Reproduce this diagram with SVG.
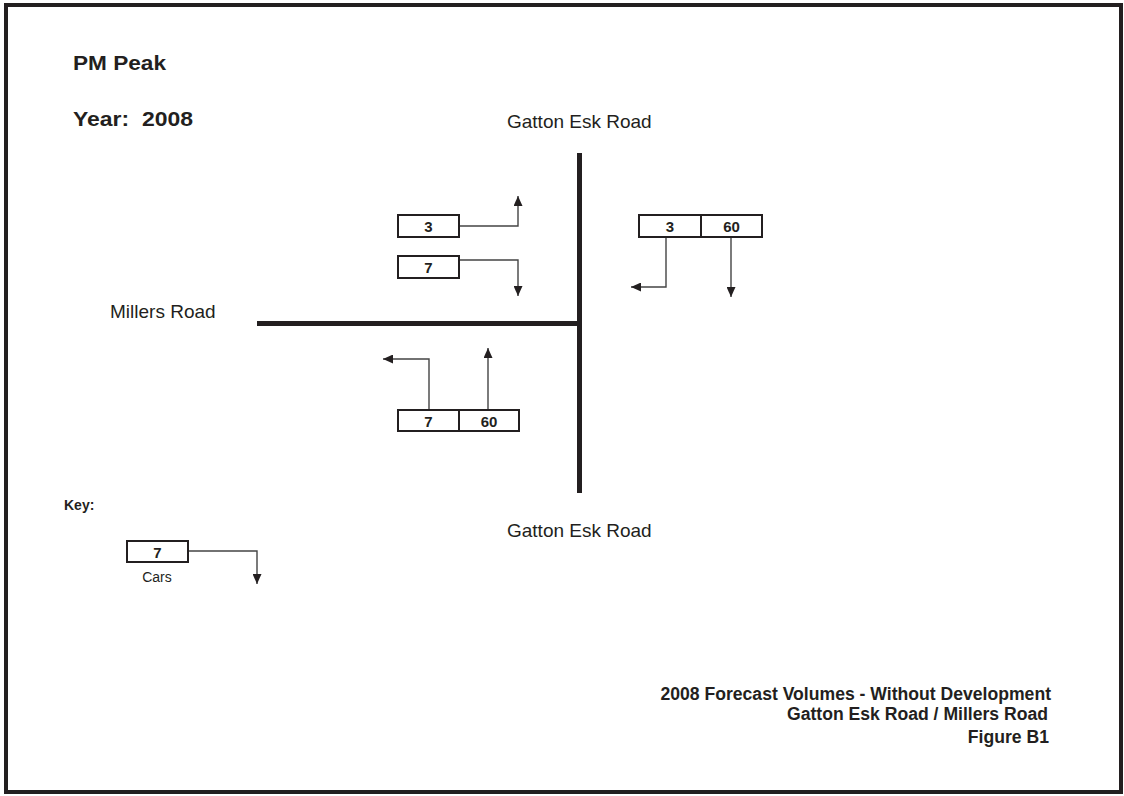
<svg xmlns="http://www.w3.org/2000/svg" width="1124" height="796" viewBox="0 0 1124 796">
<style>
text{font-family:"Liberation Sans",Arial,sans-serif;fill:#231f20}
.b{font-weight:bold}
.lbl{font-size:19px}
.num{font-size:15px;font-weight:bold;text-anchor:middle}
.box{fill:#fff;stroke:#231f20;stroke-width:2}
.road{stroke:#231f20;stroke-width:5;fill:none}
.con{fill:none;stroke:#444;stroke-width:1.4}
.ttl{font-size:17.6px;font-weight:bold;text-anchor:end}
</style>
<defs>
<marker id="ah" markerUnits="userSpaceOnUse" markerWidth="10" markerHeight="9" refX="10" refY="4.5" orient="auto">
<path d="M0,0 L10,4.5 L0,9 z" fill="#231f20"/>
</marker>
</defs>
<rect x="0" y="0" width="1124" height="796" fill="#fff"/>
<rect x="6" y="5" width="1115" height="787" fill="none" stroke="#231f20" stroke-width="4"/>

<text class="b" x="73" y="70" font-size="20" textLength="93" lengthAdjust="spacingAndGlyphs">PM Peak</text>
<text class="b" x="73" y="126" font-size="20" textLength="120" lengthAdjust="spacingAndGlyphs" xml:space="preserve">Year:  2008</text>
<text class="lbl" x="507" y="128">Gatton Esk Road</text>
<text class="lbl" x="507" y="537">Gatton Esk Road</text>
<text class="lbl" x="110" y="318">Millers Road</text>
<text class="b" x="64" y="510" font-size="14">Key:</text>

<g id="roads">
<line class="road" x1="579.5" y1="153" x2="579.5" y2="493"/>
<line class="road" x1="257" y1="323.5" x2="579.5" y2="323.5"/>
</g>

<g id="connectors">
<path class="con" d="M459,226 H518 V196" marker-end="url(#ah)"/>
<path class="con" d="M459,260 H518 V296" marker-end="url(#ah)"/>
<path class="con" d="M666,237 V287 H631" marker-end="url(#ah)"/>
<path class="con" d="M731,237 V297" marker-end="url(#ah)"/>
<path class="con" d="M429,410 V359 H383" marker-end="url(#ah)"/>
<path class="con" d="M488,410 V348" marker-end="url(#ah)"/>
<path class="con" d="M188,551 H257 V584" stroke="#231f20" stroke-width="1.1" marker-end="url(#ah)"/>
</g>

<g id="node-nw-left">
<rect class="box" x="398" y="215" width="61" height="22"/>
<text class="num" x="428.5" y="232">3</text>
</g>
<g id="node-nw-right">
<rect class="box" x="398" y="256" width="61" height="22"/>
<text class="num" x="428.5" y="273">7</text>
</g>
<g id="node-ne">
<rect class="box" x="639" y="215" width="123" height="22"/>
<line x1="701" y1="215" x2="701" y2="237" stroke="#231f20" stroke-width="2"/>
<text class="num" x="670" y="232">3</text>
<text class="num" x="731.5" y="232">60</text>
</g>
<g id="node-sw">
<rect class="box" x="398" y="410" width="121" height="21"/>
<line x1="459" y1="410" x2="459" y2="431" stroke="#231f20" stroke-width="2"/>
<text class="num" x="428.5" y="427">7</text>
<text class="num" x="489" y="427">60</text>
</g>
<g id="node-key">
<rect class="box" x="127" y="541" width="61" height="21"/>
<text class="num" x="157.5" y="558">7</text>
<text x="157" y="582" font-size="14" text-anchor="middle">Cars</text>
</g>

<g id="title">
<text class="ttl" x="1051" y="700">2008 Forecast Volumes - Without Development</text>
<text class="ttl" x="1048" y="720">Gatton Esk Road / Millers Road</text>
<text class="ttl" x="1049" y="743" font-size="16.5">Figure B1</text>
</g>
</svg>
